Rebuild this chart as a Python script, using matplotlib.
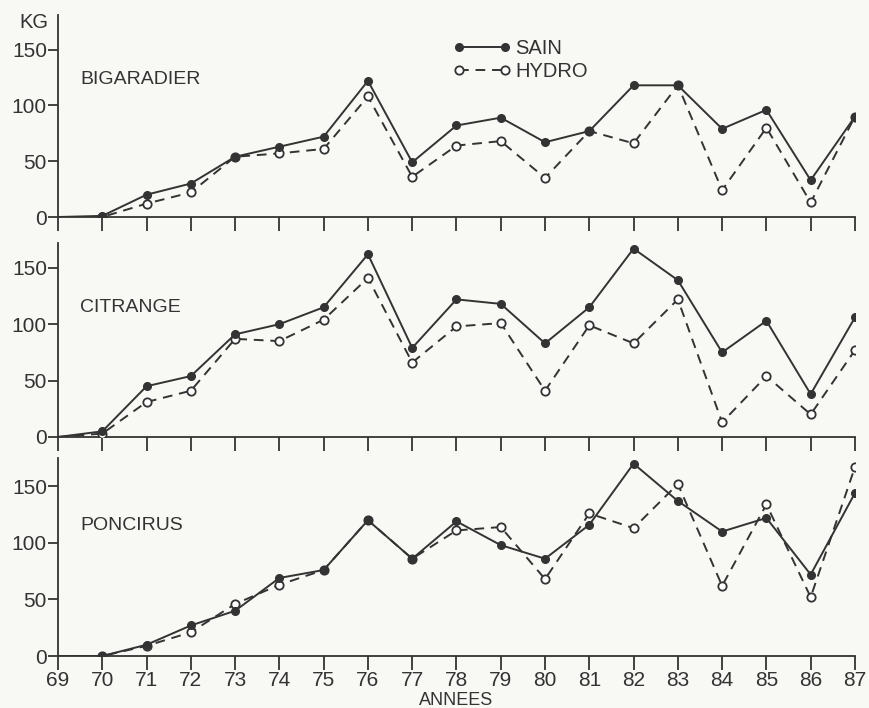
import numpy as np
import matplotlib.pyplot as plt

# années (69 = origine, sans marqueur)
annees = list(range(69, 88))
annee_labels = [str(a) for a in annees]

# production en kg par porte-greffe
bigaradier_sain = [0, 1, 20, 30, 54, 63, 72, 122, 49, 82, 89, 67, 77, 118, 118, 79, 96, 33, 90]
bigaradier_hydro = [0, 0, 12, 22, 54, 57, 61, 108, 36, 64, 68, 35, 77, 66, 118, 24, 80, 13, 90]

citrange_sain = [0, 5, 45, 54, 91, 100, 115, 162, 79, 122, 118, 83, 115, 167, 139, 75, 103, 38, 106]
citrange_hydro = [0, 3, 31, 41, 87, 85, 104, 141, 66, 98, 101, 41, 99, 83, 122, 13, 54, 20, 77]

poncirus_sain = [0, 0, 10, 27, 40, 69, 76, 120, 86, 119, 98, 86, 116, 170, 137, 110, 122, 72, 144]
poncirus_hydro = [0, 0, 9, 21, 46, 63, 76, 120, 86, 111, 114, 68, 126, 113, 152, 62, 134, 52, 167]

panneaux = ["BIGARADIER", "CITRANGE", "PONCIRUS"]
y_ticks = [0, 50, 100, 150]

ink = '#333333'
fond = '#f8f8f5'
plt.rcParams['font.family'] = ['Liberation Sans', 'DejaVu Sans']

fig = plt.figure(figsize=(8.7, 7.08), dpi=100, facecolor=fond)

# positions des axes (fractions de la figure) et haut de l'échelle
positions = [
    ([0.0667, 0.6935, 0.9160, 0.2853], 181),
    ([0.0667, 0.3828, 0.9160, 0.2740], 172),
    ([0.0667, 0.0734, 0.9160, 0.2797], 175),
]
series = [
    (bigaradier_sain, bigaradier_hydro),
    (citrange_sain, citrange_hydro),
    (poncirus_sain, poncirus_hydro),
]
# hauteur (kg) du nom de chaque panneau
y_noms = [123, 115, 115]

for i, ((pos, ytop), (sain, hydro), nom) in enumerate(zip(positions, series, panneaux)):
    ax = fig.add_axes(pos)
    ax.set_facecolor(fond)
    ax.plot(annees, hydro, color=ink, lw=1.4, ls=(0, (5, 3.5)), marker='o', ms=6,
            mfc='white', mec=ink, mew=1.3, markevery=list(range(1, len(annees))),
            label='HYDRO', zorder=3)
    ax.plot(annees, sain, color=ink, lw=1.4, marker='o', ms=5.5, mfc=ink, mec=ink,
            markevery=list(range(1, len(annees))), label='SAIN', zorder=4)
    ax.set_xlim(69, 87)
    ax.set_ylim(0, ytop)
    for s in ['top', 'right']:
        ax.spines[s].set_visible(False)
    for s in ['left', 'bottom']:
        ax.spines[s].set_color(ink)
        ax.spines[s].set_linewidth(1.3)
    ax.set_yticks(y_ticks)
    ax.set_xticks(annees)
    ax.tick_params(axis='y', direction='out', length=7, width=1.3, colors=ink,
                   labelsize=15, pad=1)
    ax.tick_params(axis='x', direction='out', length=10, width=1.3, colors=ink,
                   labelsize=15, pad=1)
    if i < 2:
        ax.set_xticklabels([])
    else:
        ax.set_xticklabels(annee_labels)
        ax.text(78, -39, 'ANNEES', ha='center', va='center', fontsize=13, color=ink)
    ax.text(69.5, y_noms[i], nom, ha='left', va='center', fontsize=14, color=ink)
    if i == 0:
        ax.text(-0.012, 1.01, 'KG', transform=ax.transAxes, ha='right', va='top',
                fontsize=14.5, color=ink)
        h, l = ax.get_legend_handles_labels()
        leg = ax.legend(h[::-1], l[::-1], loc='upper left', bbox_to_anchor=(0.495, 0.88),
                        frameon=False, numpoints=2, handlelength=2.9, handletextpad=0.2,
                        labelspacing=0.2, fontsize=14.5, labelcolor=ink,
                        borderpad=0, borderaxespad=0)

fig.savefig('out.png', dpi=100, facecolor=fond)
